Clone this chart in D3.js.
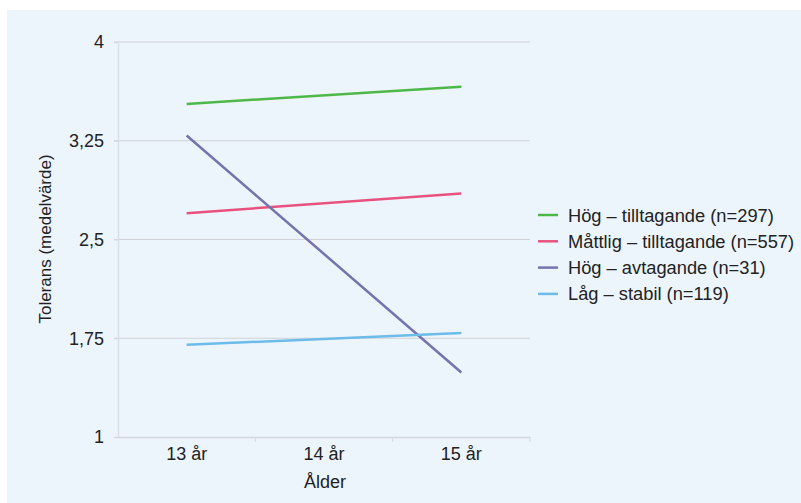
<!DOCTYPE html>
<html><head><meta charset="utf-8">
<script src="https://cdn.jsdelivr.net/npm/d3@7"></script>
<style>body{margin:0;background:#fff;} text{font-family:"Liberation Sans",Arial,sans-serif;fill:#222;}</style>
</head><body>
<svg id="c" width="801" height="503"></svg>
<script>
const categories = ["13 år", "14 år", "15 år"];
const seriesNames = ["Hög – tilltagande (n=297)", "Måttlig – tilltagande (n=557)", "Hög – avtagande (n=31)", "Låg – stabil (n=119)"];
const seriesColors = ["#4db848", "#e9527f", "#7473ad", "#6cbbe8"];
const pointCats = ["13 år", "15 år"];
const hogTill = [3.53, 3.66];
const mattTill = [2.70, 2.85];
const hogAvt = [3.29, 1.49];
const lagStabil = [1.70, 1.79];
const yTicks = [1, 1.75, 2.5, 3.25, 4];
const yTickLabels = ["1", "1,75", "2,5", "3,25", "4"];

const series = [hogTill, mattTill, hogAvt, lagStabil];
const svg = d3.select("#c");
svg.append("rect").attr("x", 7).attr("y", 10).attr("width", 794).attr("height", 493).attr("fill", "#edf5fc");

const m = {l: 118, r: 530, t: 42, b: 437};
const x = d3.scaleBand().domain(categories).range([m.l, m.r]);
const y = d3.scaleLinear().domain([1, 4]).range([m.b, m.t]);

// gridlines
svg.append("g").selectAll("line").data(yTicks.slice(1)).join("line")
  .attr("x1", m.l - 4).attr("x2", m.r).attr("y1", d => y(d)).attr("y2", d => y(d))
  .attr("stroke", "#cfd2d6").attr("stroke-width", 1);

// y axis
const ya = svg.append("g").attr("transform", `translate(${m.l},0)`)
  .call(d3.axisLeft(y).tickValues(yTicks).tickFormat((d, i) => yTickLabels[i]).tickSize(4).tickPadding(10));
ya.select(".domain").attr("stroke", "#d9dfe6").attr("stroke-width", 1.5);
ya.selectAll(".tick line").attr("stroke", "#d3d8de");
ya.selectAll(".tick text").attr("font-size", 18).attr("fill", "#222");

// x axis
const xa = svg.append("g").attr("transform", `translate(0,${m.b})`)
  .call(d3.axisBottom(x).tickSize(0).tickPadding(10));
xa.select(".domain").attr("stroke", "#d3d8de").attr("stroke-width", 1.5);
xa.selectAll(".tick text").attr("font-size", 18).attr("fill", "#222");
svg.append("g").selectAll("line").data(categories).join("line")
  .attr("x1", d => x(d) + x.bandwidth()).attr("x2", d => x(d) + x.bandwidth())
  .attr("y1", m.b).attr("y2", m.b + 5).attr("stroke", "#d3d8de");

// lines
const line = d3.line().x((d, i) => x(pointCats[i]) + x.bandwidth() / 2).y(d => y(d));
svg.append("g").selectAll("path").data(series).join("path")
  .attr("d", line).attr("fill", "none")
  .attr("stroke", (d, i) => seriesColors[i]).attr("stroke-width", 2.5);

// axis titles
svg.append("text").attr("x", 325).attr("y", 488).attr("text-anchor", "middle").attr("font-size", 18).text("Ålder");
svg.append("text").attr("transform", "translate(51,239) rotate(-90)").attr("text-anchor", "middle").attr("font-size", 17).text("Tolerans (medelvärde)");

// legend
const lg = svg.append("g").selectAll("g").data(seriesNames).join("g")
  .attr("transform", (d, i) => `translate(538,${215 + i * 26.3})`);
lg.append("line").attr("x1", 0).attr("x2", 20).attr("stroke", (d, i) => seriesColors[i]).attr("stroke-width", 2.5);
lg.append("text").attr("x", 30).attr("y", 6.5).attr("font-size", 18.3).text(d => d);
</script>
</body></html>
